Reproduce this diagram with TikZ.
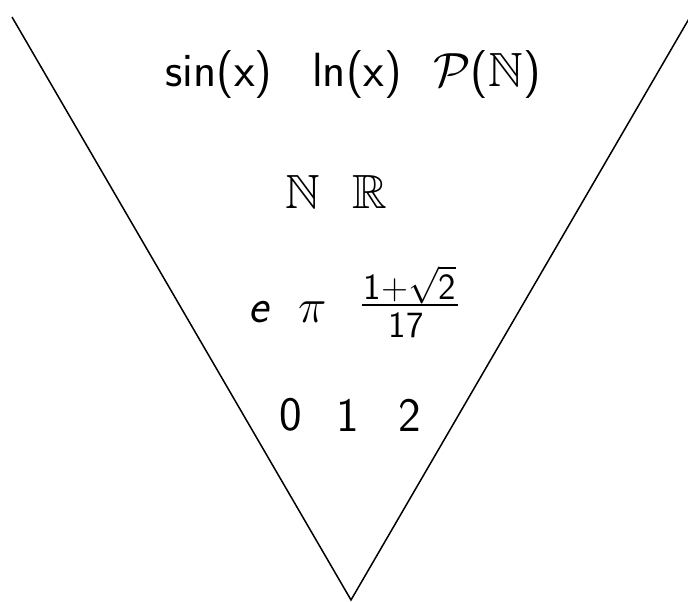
\RequirePackage{fix-cm}
\documentclass[tikz,border=0pt]{standalone}
\usepackage{amssymb}
\usepackage{fontspec}
\setmainfont{Latin Modern Sans}
\begin{document}
\begin{tikzpicture}[x=1pt,y=-1pt,
  lbl/.style={inner sep=0pt, font=\fontsize{48}{54}\selectfont},
  small/.style={inner sep=0pt, font=\fontsize{37}{42}\selectfont},
  edge/.style={line width=1.5pt, line join=miter}]
\useasboundingbox (0,0) rectangle (688,602);
\clip (0,0) rectangle (688,602);
\coordinate (tl) at (12,17);
\coordinate (tr) at (690,17);
\coordinate (ap) at (351,600);
\draw[edge] (tl) -- (ap) -- (tr);
% row 1
\node[lbl] (sin) at (219,75) {sin(x)};
\node[lbl] (ln) at (357,75) {ln(x)};
\node[lbl] (pn) at (487,75) {$\mathcal{P}$(\hbox{$\mathbb{N}$})};
% row 2
\node[lbl] (nn) at (303,192) {$\mathbb{N}$};
\node[lbl] (rr) at (370,192) {$\mathbb{R}$};
% row 3
\node[lbl] (e) at (259,312) {\textit{e}};
\node[lbl] (pi) at (313,312) {$\pi$};
\node[small] (num) at (410,285) {1+$\sqrt{\hbox{2}}$};
\node[small] (den) at (406,325) {17};
\draw[line width=2.6pt] (362,305) -- (458,305);
% row 4
\node[lbl] (d0) at (291,415) {0};
\node[lbl] (d1) at (348,415) {1};
\node[lbl] (d2) at (410,415) {2};
\end{tikzpicture}
\end{document}
